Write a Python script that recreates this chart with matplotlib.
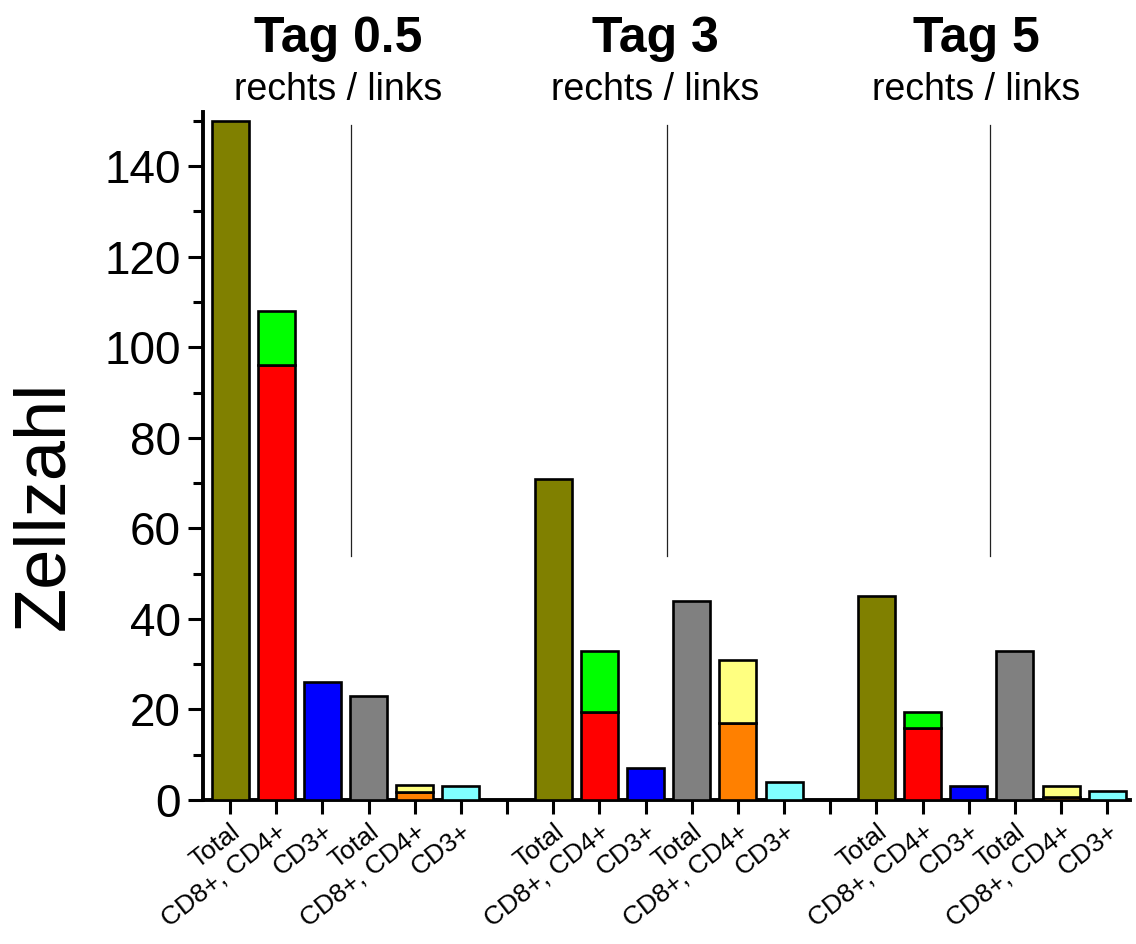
import matplotlib
matplotlib.use("Agg")
import matplotlib.pyplot as plt
import numpy as np

plt.rcParams["font.family"] = ["Liberation Sans", "DejaVu Sans"]

# Data
days = ["Tag 0.5", "Tag 3", "Tag 5"]
side_label = "rechts / links"
slot_labels = ["Total", "CD8+, CD4+", "CD3+", "Total", "CD8+, CD4+", "CD3+"]

total_rechts = [150, 71, 45]
cd8_rechts = [96, 19.5, 16]      # red, lower part
cd4_rechts = [12, 13.5, 3.5]     # green, stacked on top
cd3_rechts = [26, 7, 3.2]
total_links = [23, 44, 33]
cd8_links = [1.8, 17, 0.6]       # orange, lower part
cd4_links = [1.5, 14, 2.6]       # light yellow, stacked on top
cd3_links = [3.2, 4, 2]

sep_x = [2.62, 9.47, 16.46]      # rechts/links divider lines
sep_y = (54, 149)

OLIVE = "#808000"
RED = "#ff0000"
GREEN = "#00ff00"
BLUE = "#0000ff"
GRAY = "#808080"
ORANGE = "#ff8000"
LYELLOW = "#ffff80"
LCYAN = "#80ffff"

fig = plt.figure(figsize=(11.36, 9.44), dpi=100)
ax = fig.add_axes([0.179, 0.1525, 0.816, 0.729])

W = 0.8
kw = dict(width=W, edgecolor="black", linewidth=1.9, zorder=3)
for g in range(len(days)):
    b = g * 7
    ax.bar(b + 0, total_rechts[g], color=OLIVE, **kw)
    ax.bar(b + 1, cd8_rechts[g], color=RED, **kw)
    ax.bar(b + 1, cd4_rechts[g], bottom=cd8_rechts[g], color=GREEN, **kw)
    ax.bar(b + 2, cd3_rechts[g], color=BLUE, **kw)
    ax.bar(b + 3, total_links[g], color=GRAY, **kw)
    ax.bar(b + 4, cd8_links[g], color=ORANGE, **kw)
    ax.bar(b + 4, cd4_links[g], bottom=cd8_links[g], color=LYELLOW, **kw)
    ax.bar(b + 5, cd3_links[g], color=LCYAN, **kw)

for x in sep_x:
    ax.plot([x, x], sep_y, color="#222222", linewidth=0.9, zorder=2)

# ticks
ticks = np.arange(20)
labels = []
for t in ticks:
    labels.append("" if t % 7 == 6 else slot_labels[t % 7])
ax.set_xticks(ticks)
ax.set_xticklabels(labels, rotation=38, ha="right", va="top",
                   rotation_mode="anchor", fontsize=19)
ax.set_xlim(-0.58, 19.5)
ax.set_ylim(0, 152)
ax.set_yticks(np.arange(0, 141, 20))
ax.set_yticks(np.arange(10, 151, 20), minor=True)
ax.tick_params(axis="y", which="major", direction="out", length=11, width=2.2,
               labelsize=33, pad=5)
ax.tick_params(axis="y", which="minor", direction="out", length=7, width=2.2)
ax.tick_params(axis="x", which="major", direction="out", length=10, width=2.2, pad=4)

for s in ["top", "right"]:
    ax.spines[s].set_visible(False)
for s in ["left", "bottom"]:
    ax.spines[s].set_linewidth(2.8)

fig.text(45 / 1136, 1 - 505 / 944, "Zellzahl", rotation=90, ha="center",
         va="center", fontsize=52)

title_x = [338, 655, 976]
for d, xp in zip(days, title_x):
    fig.text(xp / 1136, 1 - 52 / 944, d, ha="center", va="baseline",
             fontsize=36, fontweight="bold")
    fig.text(xp / 1136, 1 - 100 / 944, side_label, ha="center", va="baseline",
             fontsize=27)

fig.savefig("out.png", dpi=100, facecolor="white")
